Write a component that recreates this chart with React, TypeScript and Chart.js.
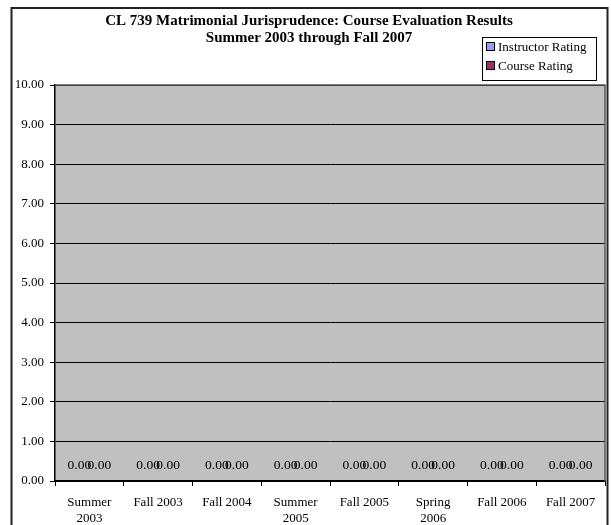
import React, { useEffect, useRef } from "react";
import { Chart, registerables } from "chart.js";

Chart.register(...registerables);

const categories: (string | string[])[] = [
  ["Summer", "2003"],
  "Fall 2003",
  "Fall 2004",
  ["Summer", "2005"],
  "Fall 2005",
  ["Spring", "2006"],
  "Fall 2006",
  "Fall 2007",
];
const instructorRating = [0, 0, 0, 0, 0, 0, 0, 0];
const courseRating = [0, 0, 0, 0, 0, 0, 0, 0];
const seriesNames = ["Instructor Rating", "Course Rating"];
const seriesColors = ["#9999FF", "#993366"];
const titleLines = [
  "CL 739 Matrimonial Jurisprudence: Course Evaluation Results",
  "Summer 2003 through Fall 2007",
];
const yMin = 0;
const yMax = 10;
const yStep = 1;

const FONT = "'Liberation Serif', 'Times New Roman', serif";

const decorPlugin = {
  id: "decor",
  beforeDraw(chart: any) {
    const { ctx, chartArea: a } = chart;
    ctx.save();
    ctx.fillStyle = "#ffffff";
    ctx.fillRect(0, 0, chart.width, chart.height);
    ctx.fillStyle = "#C0C0C0";
    ctx.fillRect(a.left, a.top, a.right - a.left, a.bottom - a.top);
    ctx.restore();
  },
  afterDatasetsDraw(chart: any) {
    const { ctx } = chart;
    ctx.save();
    ctx.font = `13.5px ${FONT}`;
    ctx.fillStyle = "#000";
    ctx.textAlign = "center";
    ctx.textBaseline = "middle";
    chart.data.datasets.forEach((ds: any, di: number) => {
      const meta = chart.getDatasetMeta(di);
      meta.data.forEach((el: any, i: number) => {
        const v = ds.data[i] as number;
        ctx.fillText(v.toFixed(2), el.x, el.y - 16);
      });
    });
    ctx.restore();
  },
  afterDraw(chart: any) {
    const { ctx, chartArea: a } = chart;
    ctx.save();
    // plot area border (top/right)
    ctx.strokeStyle = "#555";
    ctx.lineWidth = 1.5;
    ctx.beginPath();
    ctx.moveTo(a.left, a.top);
    ctx.lineTo(a.right, a.top);
    ctx.lineTo(a.right, a.bottom);
    ctx.stroke();
    // outer frame
    ctx.strokeStyle = "#222";
    ctx.lineWidth = 2;
    ctx.strokeRect(11.5, 8, 596, 530);
    // title
    ctx.fillStyle = "#000";
    ctx.font = `bold 15px ${FONT}`;
    ctx.textAlign = "center";
    ctx.textBaseline = "middle";
    ctx.fillText(titleLines[0], 309, 21);
    ctx.fillText(titleLines[1], 309, 38);
    // legend
    ctx.fillStyle = "#fff";
    ctx.fillRect(482, 37, 114, 43);
    ctx.strokeStyle = "#000";
    ctx.lineWidth = 1;
    ctx.strokeRect(482.5, 37.5, 114, 43);
    ctx.font = `13px ${FONT}`;
    ctx.textAlign = "left";
    const ys = [47, 66];
    seriesNames.forEach((name, i) => {
      const y = ys[i];
      ctx.fillStyle = seriesColors[i];
      ctx.fillRect(487, y - 4, 8, 8);
      ctx.strokeStyle = "#000";
      ctx.strokeRect(486.5, y - 4.5, 8, 8);
      ctx.fillStyle = "#000";
      ctx.fillText(name, 498, y + 0.5);
    });
    ctx.restore();
  },
};

export default function App() {
  const ref = useRef<HTMLCanvasElement>(null);
  useEffect(() => {
    if (!ref.current) return;
    const chart = new Chart(ref.current, {
      type: "bar",
      data: {
        labels: categories,
        datasets: [
          {
            label: seriesNames[0],
            data: instructorRating,
            backgroundColor: seriesColors[0],
            borderColor: "#000",
            borderWidth: 0,
            categoryPercentage: 0.58,
            barPercentage: 1,
          },
          {
            label: seriesNames[1],
            data: courseRating,
            backgroundColor: seriesColors[1],
            borderColor: "#000",
            borderWidth: 0,
            categoryPercentage: 0.58,
            barPercentage: 1,
          },
        ],
      },
      options: {
        responsive: false,
        animation: false,
        devicePixelRatio: 1,
        layout: { padding: { left: 0, top: 85, right: 6, bottom: 0 } },
        plugins: {
          legend: { display: false },
          title: { display: false },
          tooltip: { enabled: false },
        },
        scales: {
          x: {
            grid: {
              drawOnChartArea: false,
              drawTicks: true,
              tickLength: 5,
              color: "#000",
              offset: true,
            },
            border: { color: "#000", width: 1.5 },
            ticks: {
              color: "#000",
              font: { family: FONT, size: 13, lineHeight: 1.28 },
              padding: 8,
              maxRotation: 0,
              autoSkip: false,
            },
            afterFit: (s: any) => {
              s.height = 44;
            },
          },
          y: {
            min: yMin,
            max: yMax,
            grid: { color: "#000", lineWidth: 1, tickLength: 5 },
            border: { color: "#000", width: 1.5 },
            ticks: {
              stepSize: yStep,
              color: "#000",
              font: { family: FONT, size: 13 },
              padding: 6,
              callback: (v: any) => Number(v).toFixed(2),
            },
            afterFit: (s: any) => {
              s.width = 55;
            },
          },
        },
      },
      plugins: [decorPlugin],
    });
    return () => chart.destroy();
  }, []);
  return (
    <div style={{ position: "fixed", left: 0, top: 0, width: 611, height: 525 }}>
      <canvas ref={ref} width={611} height={525} style={{ display: "block" }} />
    </div>
  );
}
